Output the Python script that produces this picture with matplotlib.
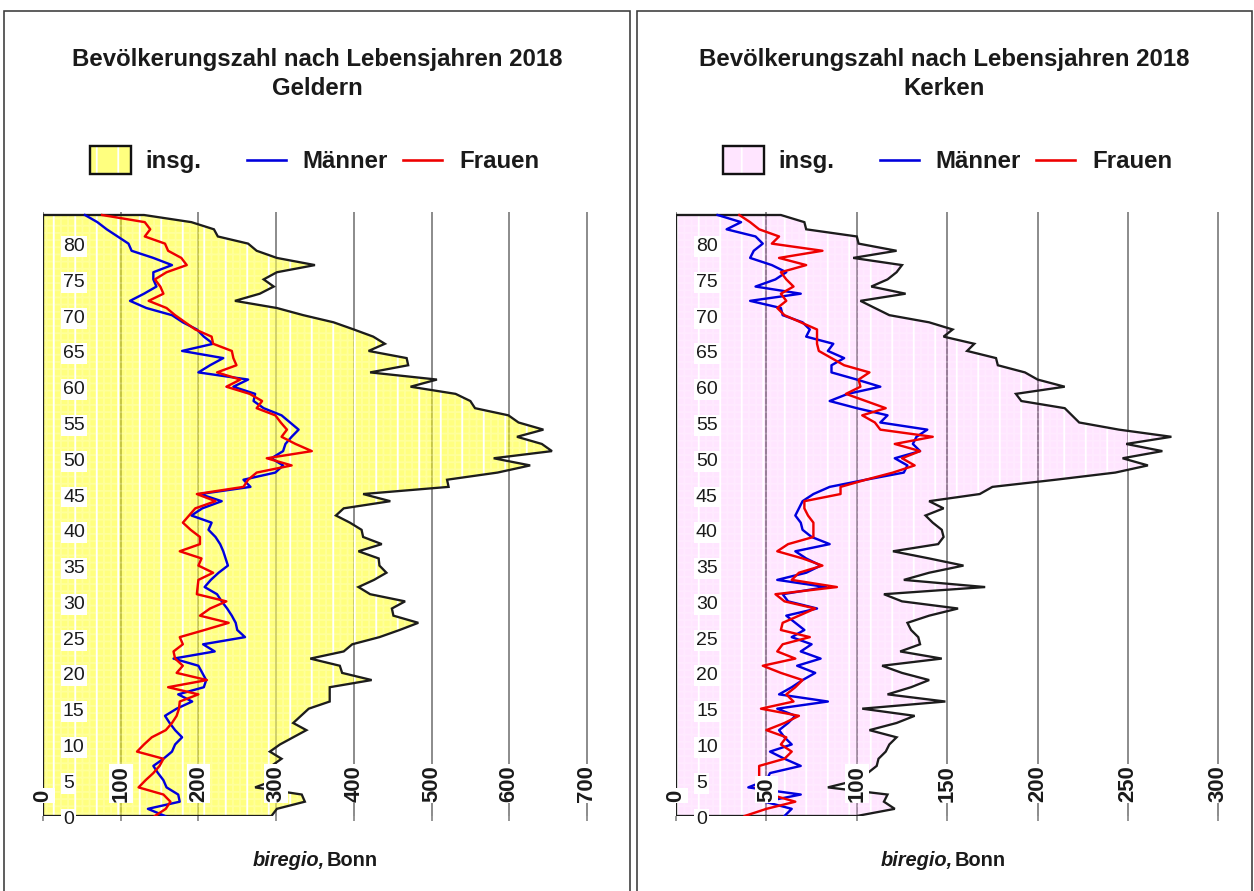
import numpy as np
import matplotlib
matplotlib.use("Agg")
import matplotlib.pyplot as plt
import matplotlib.transforms as mtransforms
from matplotlib.patches import Rectangle
from matplotlib.lines import Line2D

# ---------------- data ----------------
ages = list(range(0, 85))
age_ticks = list(range(0, 81, 5))

geldern_total = [294, 301, 337, 333, 273, 298, 300, 294, 307, 292,
                 305, 322, 339, 322, 332, 342, 369, 369, 369, 423,
                 385, 382, 344, 387, 398, 433, 459, 483, 451, 449,
                 466, 421, 406, 426, 442, 433, 432, 406, 436, 412,
                 410, 395, 377, 387, 447, 412, 522, 520, 585, 627,
                 580, 655, 642, 610, 644, 612, 599, 556, 550, 531,
                 473, 507, 421, 470, 468, 419, 440, 425, 400, 374,
                 335, 301, 247, 279, 297, 284, 301, 350, 301, 275,
                 264, 225, 220, 191, 130]
geldern_men = [157, 135, 176, 174, 159, 155, 148, 142, 155, 166,
               170, 179, 170, 163, 157, 172, 192, 174, 207, 210,
               205, 200, 168, 221, 206, 260, 250, 248, 243, 237,
               230, 224, 208, 216, 226, 238, 235, 232, 228, 222,
               213, 217, 191, 205, 230, 202, 267, 258, 299, 309,
               294, 309, 312, 320, 329, 318, 307, 284, 271, 273,
               245, 264, 200, 215, 232, 179, 219, 207, 198, 180,
               166, 133, 112, 130, 146, 142, 142, 166, 142, 114,
               110, 96, 82, 70, 54]
geldern_women = [144, 158, 164, 155, 123, 132, 142, 150, 155, 121,
                 130, 140, 158, 166, 172, 175, 176, 200, 161, 211,
                 172, 180, 170, 168, 180, 176, 208, 239, 202, 215,
                 236, 198, 199, 200, 219, 200, 204, 176, 202, 202,
                 190, 180, 188, 196, 222, 198, 258, 264, 275, 320,
                 288, 346, 325, 307, 314, 306, 299, 275, 282, 266,
                 236, 254, 224, 249, 245, 243, 219, 217, 196, 183,
                 170, 159, 136, 155, 151, 144, 159, 185, 178, 161,
                 157, 131, 138, 131, 76]

kerken_total = [100, 121, 115, 117, 84, 100, 106, 111, 112, 116,
                118, 122, 107, 122, 132, 103, 149, 117, 130, 140,
                125, 114, 147, 124, 135, 134, 130, 128, 140, 156,
                125, 115, 171, 126, 140, 159, 140, 120, 145, 148,
                147, 142, 138, 148, 140, 168, 175, 210, 243, 261,
                247, 269, 249, 274, 245, 223, 219, 215, 191, 188,
                215, 200, 193, 178, 177, 161, 165, 148, 153, 140,
                118, 110, 102, 127, 108, 117, 122, 125, 98, 122,
                101, 100, 72, 71, 58]
kerken_men = [60, 64, 49, 69, 40, 50, 52, 69, 60, 52,
              64, 60, 57, 62, 66, 56, 84, 57, 64, 70,
              77, 67, 80, 69, 75, 64, 71, 66, 61, 78,
              62, 59, 83, 56, 72, 80, 72, 66, 85, 75,
              70, 69, 66, 68, 70, 76, 85, 105, 126, 128,
              121, 135, 131, 133, 139, 113, 117, 100, 85, 95,
              113, 100, 86, 86, 93, 84, 87, 72, 74, 70,
              59, 58, 41, 69, 44, 55, 61, 53, 41, 43,
              48, 44, 28, 36, 23]
kerken_women = [38, 50, 66, 52, 44, 46, 46, 46, 60, 64,
                58, 61, 50, 60, 68, 47, 65, 61, 66, 70,
                58, 48, 66, 56, 59, 74, 58, 59, 68, 77,
                60, 55, 89, 64, 68, 81, 70, 56, 62, 76,
                76, 76, 73, 71, 71, 91, 91, 105, 120, 132,
                125, 135, 121, 142, 113, 110, 103, 116, 105, 94,
                102, 101, 107, 93, 86, 79, 78, 78, 78, 69,
                60, 56, 61, 58, 65, 61, 58, 72, 57, 81,
                53, 57, 46, 41, 35]

geldern_xticks = [0, 100, 200, 300, 400, 500, 600, 700]
kerken_xticks = [0, 50, 100, 150, 200, 250, 300]

title_line1 = "Bevölkerungszahl nach Lebensjahren 2018"
legend_labels = ["insg.", "Männer", "Frauen"]
source_italic = "biregio,"
source_plain = "Bonn"

# ---------------- style / layout ----------------
DPI = 129
W, H = 1254, 891


def pt(px):
    return px * 72.0 / DPI


def fx(px):
    return px / W


def fy(py):
    return 1.0 - py / H


plt.rcParams["font.family"] = ["Liberation Sans", "DejaVu Sans"]
plt.rcParams["hatch.linewidth"] = pt(1.8)
NARROW = ["Liberation Sans Narrow", "Liberation Sans", "DejaVu Sans"]
TXT = "#1a1a1a"

fig = plt.figure(figsize=(W / DPI, H / DPI), dpi=DPI)

AX_TOP, AX_BOT = 212, 816
PX_PER_YEAR = 7.155
YMAX = 84 + (215 - AX_TOP) / PX_PER_YEAR


def panel(box_l, box_r, ax_l, ax_r, xmax, xticks, total, men, women,
          face, town):
    # panel border
    fig.add_artist(Rectangle((fx(box_l), fy(H + 10)), fx(box_r - box_l),
                             (H + 10 - 11) / H, transform=fig.transFigure,
                             facecolor="none", edgecolor="#3a3a3a",
                             linewidth=pt(1.6)))
    cx = (box_l + box_r) / 2
    fig.text(fx(cx), fy(66), title_line1, ha="center", va="baseline",
             fontsize=pt(24), fontweight="bold", color=TXT)
    fig.text(fx(cx), fy(95), town, ha="center", va="baseline",
             fontsize=pt(24), fontweight="bold", color=TXT)

    # legend
    lx = box_l
    fig.add_artist(Rectangle((fx(lx + 86), fy(174)), fx(41), 28 / H,
                             transform=fig.transFigure, facecolor=face,
                             edgecolor="white", linewidth=0, hatch="|"))
    fig.add_artist(Rectangle((fx(lx + 86), fy(174)), fx(41), 28 / H,
                             transform=fig.transFigure, facecolor="none",
                             edgecolor="#111111", linewidth=pt(2.4)))
    fig.text(fx(lx + 141), fy(168), legend_labels[0], ha="left",
             va="baseline", fontsize=pt(24), fontweight="bold", color=TXT)
    fig.add_artist(Line2D([fx(lx + 243), fx(lx + 282)], [fy(160)] * 2,
                          transform=fig.transFigure, color="#0000dd",
                          linewidth=pt(2.6)))
    fig.text(fx(lx + 298), fy(168), legend_labels[1], ha="left",
             va="baseline", fontsize=pt(24), fontweight="bold", color=TXT)
    fig.add_artist(Line2D([fx(lx + 399), fx(lx + 438)], [fy(160)] * 2,
                          transform=fig.transFigure, color="#ee0000",
                          linewidth=pt(2.6)))
    fig.text(fx(lx + 455), fy(168), legend_labels[2], ha="left",
             va="baseline", fontsize=pt(24), fontweight="bold", color=TXT)

    # source
    fig.text(fx(cx + 8), fy(866), source_italic, ha="right", va="baseline",
             fontsize=pt(20), fontweight="bold", fontstyle="italic",
             family=NARROW, color=TXT)
    fig.text(fx(cx + 10), fy(866), source_plain, ha="left", va="baseline",
             fontsize=pt(20), fontweight="bold", family=NARROW, color=TXT)

    # axes
    ax = fig.add_axes([fx(ax_l), fy(AX_BOT), fx(ax_r - ax_l),
                       (AX_BOT - AX_TOP) / H])
    ax.set_facecolor("none")
    ax.set_xlim(0, xmax)
    ax.set_ylim(0, YMAX)
    for s in ax.spines.values():
        s.set_visible(False)
    ax.set_xticks(xticks)
    ax.set_xticklabels([])
    ax.set_yticks([])
    ax.tick_params(axis="x", direction="out", length=pt(5), width=pt(1.5),
                   color="#777777")
    ax.set_axisbelow(True)
    ax.grid(axis="x", color="#727272", linewidth=pt(1.6))

    t = np.asarray(total, dtype=float)
    a = np.asarray(ages, dtype=float)
    xs = np.r_[0, t, 0]
    ys = np.r_[0, a, a[-1]]
    ax.fill(xs, ys, facecolor=face, edgecolor="white", linewidth=0,
            hatch="|", zorder=1)
    ax.fill(xs, ys, facecolor="none", edgecolor=(1, 1, 1, 0.22),
            linewidth=0, hatch="+++", zorder=1.1)
    ax.plot(np.r_[0, 0, t, 0], np.r_[a[-1], 0, a, a[-1]], color="#1c1c1c",
            linewidth=pt(2.3), zorder=2, solid_joinstyle="miter")
    ax.plot(men, ages, color="#0000dd", linewidth=pt(2.4), zorder=3)
    ax.plot(women, ages, color="#ee0000", linewidth=pt(2.4), zorder=4)

    # y labels inside the plot
    ytr = mtransforms.blended_transform_factory(ax.transAxes, ax.transData) + \
        mtransforms.ScaledTranslation(20 / DPI, -3 / DPI, fig.dpi_scale_trans)
    for v in age_ticks:
        ax.text(0, v, str(v), transform=ytr, ha="left", va="center",
                fontsize=pt(19.5), family=NARROW, color=TXT, zorder=10,
                bbox=dict(boxstyle="square,pad=0.1", facecolor="white",
                          edgecolor="none"))
    # x labels inside the plot
    xtr = mtransforms.blended_transform_factory(ax.transData, ax.transAxes)
    for v in xticks:
        ax.text(v, (AX_BOT - 802) / (AX_BOT - AX_TOP), str(v),
                transform=xtr, rotation=90, ha="center", va="bottom",
                fontsize=pt(22), fontweight="bold", family=NARROW,
                color=TXT, zorder=11,
                bbox=dict(boxstyle="square,pad=0.06", facecolor="white",
                          edgecolor="none"))
    return ax


panel(4, 630, 43, 43 + 750 * 0.777, 750, geldern_xticks, geldern_total,
      geldern_men, geldern_women, (1.0, 1.0, 0.0, 0.5), "Geldern")
panel(637, 1252, 676, 676 + 318 * 1.808, 318, kerken_xticks, kerken_total,
      kerken_men, kerken_women, (1.0, 0.0, 1.0, 0.10), "Kerken")

fig.savefig("out.png", dpi=DPI)
